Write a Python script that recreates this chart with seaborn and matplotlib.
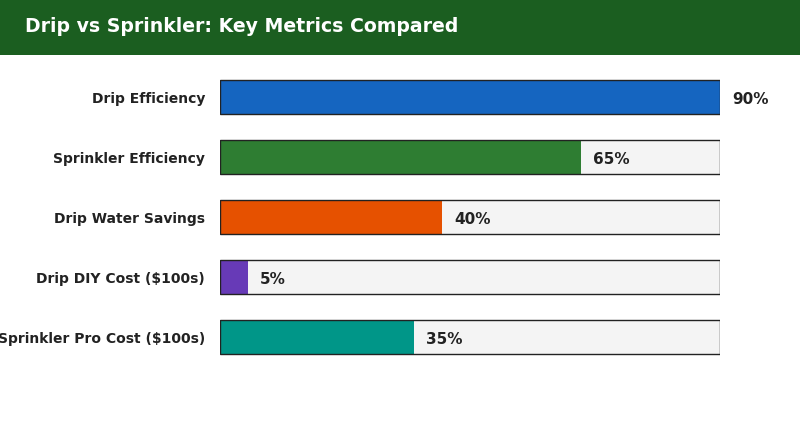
import pandas as pd
import matplotlib.pyplot as plt
import seaborn as sns
from matplotlib.patches import Rectangle

# data
metrics = ["Drip Efficiency", "Sprinkler Efficiency", "Drip Water Savings",
           "Drip DIY Cost ($100s)", "Sprinkler Pro Cost ($100s)"]
values = [90, 65, 40, 5, 35]
colors = ["#1565c0", "#2e7d32", "#e65100", "#673ab7", "#009688"]
scale_max = 90

df = pd.DataFrame({"metric": metrics, "value": values})

sns.set_style("white")
plt.rcParams['font.family'] = ['DejaVu Sans']

fig = plt.figure(figsize=(8, 4.3), dpi=100)

# header band
fig.patches.append(Rectangle((0, 1 - 55 / 430), 1, 55 / 430, transform=fig.transFigure,
                             facecolor="#1b5e20", edgecolor="none", zorder=0))
fig.text(25 / 800, 1 - 26 / 430, "Drip vs Sprinkler: Key Metrics Compared",
         color="white", fontsize=13.6, fontweight="bold", va="center", ha="left")

ax = fig.add_axes([220 / 800, 1 - 367 / 430, 500 / 800, 300 / 430])

# background tracks
ax.barh(range(len(metrics)), [scale_max] * len(metrics), height=0.567,
        color="#f4f4f4", edgecolor="none", zorder=1)

sns.barplot(data=df, x="value", y="metric", hue="metric", palette=colors,
            orient="h", width=0.567, legend=False, ax=ax, zorder=2,
            edgecolor="none", saturation=1)

# track outlines on top
ax.barh(range(len(metrics)), [scale_max] * len(metrics), height=0.567,
        color="none", edgecolor="#222222", linewidth=1, zorder=3)

for i, v in enumerate(values):
    ax.annotate(f"{v}%", xy=(v, i), xytext=(8.5, -2), textcoords="offset points",
                va="center", ha="left", fontsize=11, fontweight="bold",
                color="#222222", zorder=4)

ax.set_xlim(0, scale_max)
ax.set_ylim(4.5, -0.5)
ax.set_xlabel("")
ax.set_ylabel("")
ax.set_xticks([])
ax.tick_params(axis="y", length=0, pad=10.8)
for lbl in ax.get_yticklabels():
    lbl.set_fontweight("bold")
    lbl.set_fontsize(10)
    lbl.set_color("#222222")
for s in ax.spines.values():
    s.set_visible(False)

fig.savefig("out.png", dpi=100)
